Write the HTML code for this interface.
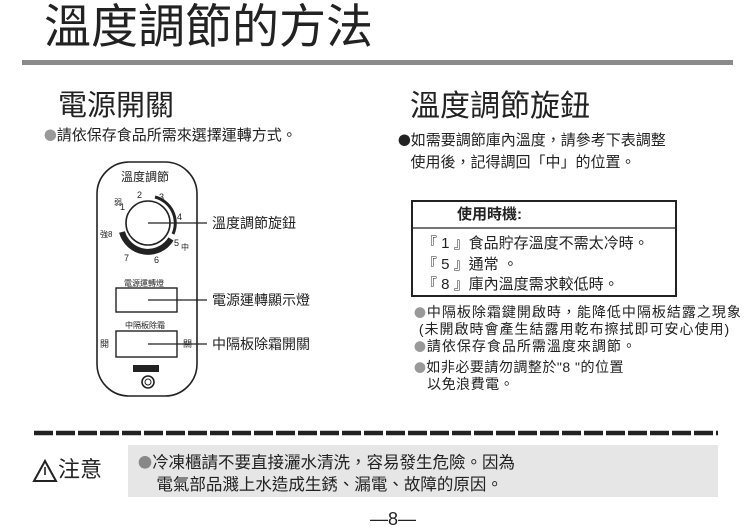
<!DOCTYPE html><html><head><meta charset="utf-8"><style>
body{margin:0;width:750px;height:532px;background:#fff;position:relative;overflow:hidden;font-family:"Liberation Sans","Noto Sans CJK TC",sans-serif;color:#222}
.a{position:absolute;white-space:nowrap;line-height:1}
.b{font-family:"Noto Sans CJK TC",sans-serif;font-size:0.85em}
</style></head><body>
<div class="a" style="left:44px;top:3px;font-size:47px;color:#222">溫度調節的方法</div>
<div class="a" style="left:22px;top:60px;width:711px;height:5px;background:#8a8a8a"></div>
<div class="a" style="left:58px;top:92px;font-size:29px">電源開關</div>
<div class="a" style="left:410px;top:92px;font-size:30px">溫度調節旋鈕</div>
<div class="a" style="left:44px;top:128px;font-size:15px"><span class="b" style="color:#999">●</span>請依保存食品所需來選擇運轉方式。</div>
<div class="a" style="left:398px;top:129px;font-size:15px;line-height:22px"><span class="b">●</span>如需要調節庫內溫度，請參考下表調整<br>&nbsp;&nbsp;&nbsp;使用後，記得調回「中」的位置。</div>
<svg class="a" style="left:0;top:0" width="750" height="532">
<rect x="97" y="162" width="100" height="234" rx="32" fill="none" stroke="#222" stroke-width="1.6"/>
<path d="M122 232 A27 27 0 0 0 171 239" fill="none" stroke="#222" stroke-width="6"/>
<path d="M155 197 A27 27 0 0 1 173 234" fill="none" stroke="#222" stroke-width="3"/>
<circle cx="148" cy="223" r="22" fill="#fff" stroke="#222" stroke-width="1.6"/>
<rect x="116" y="288" width="61" height="24" fill="none" stroke="#222" stroke-width="1.4"/>
<rect x="116" y="331" width="61" height="26" fill="none" stroke="#222" stroke-width="1.4"/>
<rect x="133" y="365" width="26" height="7" fill="#222"/>
<circle cx="148" cy="382" r="6" fill="none" stroke="#222" stroke-width="1.6"/>
<circle cx="148" cy="382" r="3" fill="none" stroke="#222" stroke-width="1"/>
<line x1="148" y1="223" x2="207" y2="223" stroke="#222" stroke-width="1.2"/>
<line x1="148" y1="300" x2="207" y2="300" stroke="#222" stroke-width="1.2"/>
<line x1="148" y1="344" x2="207" y2="344" stroke="#222" stroke-width="1.2"/>
<rect x="412" y="201" width="264" height="95" fill="none" stroke="#222" stroke-width="2"/>
<line x1="412" y1="228" x2="676" y2="228" stroke="#222" stroke-width="1.2"/>
<line x1="34" y1="433" x2="718" y2="433" stroke="#222" stroke-width="4.5" stroke-dasharray="19,3"/>
<path d="M34 481 L45 461 L56 481 Z" fill="none" stroke="#222" stroke-width="2"/>
<line x1="45" y1="467" x2="45" y2="475" stroke="#222" stroke-width="1.6"/>
</svg>
<div class="a" style="left:121px;top:171px;font-size:12px">溫度調節</div>
<div class="a" style="left:114px;top:199px;font-size:8px">弱</div>
<div class="a" style="left:120px;top:203px;font-size:9px">1</div>
<div class="a" style="left:137px;top:191px;font-size:9px">2</div>
<div class="a" style="left:159px;top:193px;font-size:9px">3</div>
<div class="a" style="left:177px;top:213px;font-size:9px">4</div>
<div class="a" style="left:174px;top:239px;font-size:9px">5</div>
<div class="a" style="left:181px;top:244px;font-size:8px">中</div>
<div class="a" style="left:154px;top:256px;font-size:9px">6</div>
<div class="a" style="left:124px;top:254px;font-size:9px">7</div>
<div class="a" style="left:100px;top:231px;font-size:8px">強8</div>
<div class="a" style="left:124px;top:280px;font-size:8px">電源運轉燈</div>
<div class="a" style="left:125px;top:322px;font-size:8px">中隔板除霜</div>
<div class="a" style="left:100px;top:340px;font-size:9px">開</div>
<div class="a" style="left:183px;top:340px;font-size:9px">關</div>
<div class="a" style="left:212px;top:216px;font-size:14px">溫度調節旋鈕</div>
<div class="a" style="left:212px;top:293px;font-size:14px">電源運轉顯示燈</div>
<div class="a" style="left:212px;top:337px;font-size:14px">中隔板除霜開關</div>
<div class="a" style="left:457px;top:207px;font-size:15px;font-weight:bold">使用時機:</div>
<div class="a" style="left:422px;top:234px;font-size:15px;line-height:20.5px">『 1 』食品貯存溫度不需太冷時。<br>『 5 』通常 。<br>『 8 』庫內溫度需求較低時。</div>
<div class="a" style="left:414px;top:304px;font-size:14px;line-height:17px;letter-spacing:1px"><span class="b" style="color:#999">●</span>中隔板除霜鍵開啟時，能降低中隔板結露之現象<br>&nbsp;(未開啟時會產生結露用乾布擦拭即可安心使用)<br><span class="b" style="color:#999">●</span>請依保存食品所需溫度來調節。</div>
<div class="a" style="left:414px;top:359px;font-size:14px;line-height:17px;letter-spacing:0.5px"><span class="b" style="color:#999">●</span>如非必要請勿調整於"8 "的位置<br>&nbsp;&nbsp;&nbsp;以免浪費電。</div>
<div class="a" style="left:128px;top:445px;width:590px;height:52px;background:#e6e6e6"></div>
<div class="a" style="left:58px;top:459px;font-size:22px">注意</div>
<div class="a" style="left:138px;top:452px;font-size:16.5px;line-height:22px"><span class="b" style="color:#888">●</span>冷凍櫃請不要直接灑水清洗，容易發生危險。因為<br>&nbsp;&nbsp;&nbsp;&nbsp;電氣部品濺上水造成生銹、漏電、故障的原因。</div>
<div class="a" style="left:370px;top:510px;font-size:18px">—8—</div>
</body></html>
